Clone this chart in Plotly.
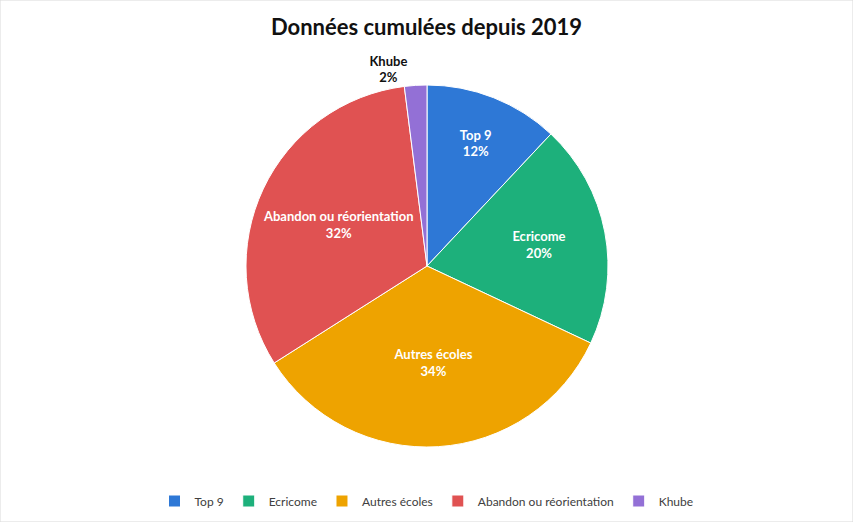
import plotly.graph_objects as go

categories = ["Top 9", "Ecricome", "Autres écoles", "Abandon ou réorientation", "Khube"]
valeurs = [12, 20, 34, 32, 2]
couleurs = ["#2E78D6", "#1DB07B", "#EEA300", "#E05252", "#9370D6"]
positions = ["inside", "inside", "inside", "inside", "outside"]
texte_couleurs = ["white", "white", "white", "white", "#111111"]

W, H = 853, 522

fig = go.Figure(go.Pie(
    labels=categories,
    values=valeurs,
    sort=False,
    direction="clockwise",
    rotation=0,
    marker=dict(colors=couleurs, line=dict(color="white", width=1)),
    texttemplate="<b>%{label}</b><br><b>%{percent:.0%}</b>",
    textposition=positions,
    insidetextorientation="horizontal",
    textfont=dict(family="Lato, Open Sans, sans-serif", size=13, color=texte_couleurs),
    domain=dict(x=[(427 - 181) / W, (427 + 181) / W], y=[1 - 447 / H, 1 - 85 / H]),
    hoverinfo="label+percent",
))

fig.update_layout(
    width=W, height=H,
    margin=dict(l=0, r=0, t=0, b=0),
    paper_bgcolor="white",
    font=dict(family="Lato, Open Sans, sans-serif", color="#404040"),
    title=dict(text="<b>Données cumulées depuis 2019</b>", x=0.5, xanchor="center",
               y=1 - 27 / H, yanchor="middle",
               font=dict(size=22, color="#111111")),
    showlegend=True,
    legend=dict(orientation="h", x=0.5, xanchor="center", y=1 - 501 / H, yanchor="middle",
                font=dict(size=12, color="#404040")),
    shapes=[dict(type="rect", xref="paper", yref="paper", x0=0, y0=0, x1=1, y1=1,
                 line=dict(color="#D9D9D9", width=1))],
)

# la page a une marge de 8px par défaut
fig.write_html("out.html", config={"displayModeBar": False},
               post_script="document.body.style.margin='0';")
